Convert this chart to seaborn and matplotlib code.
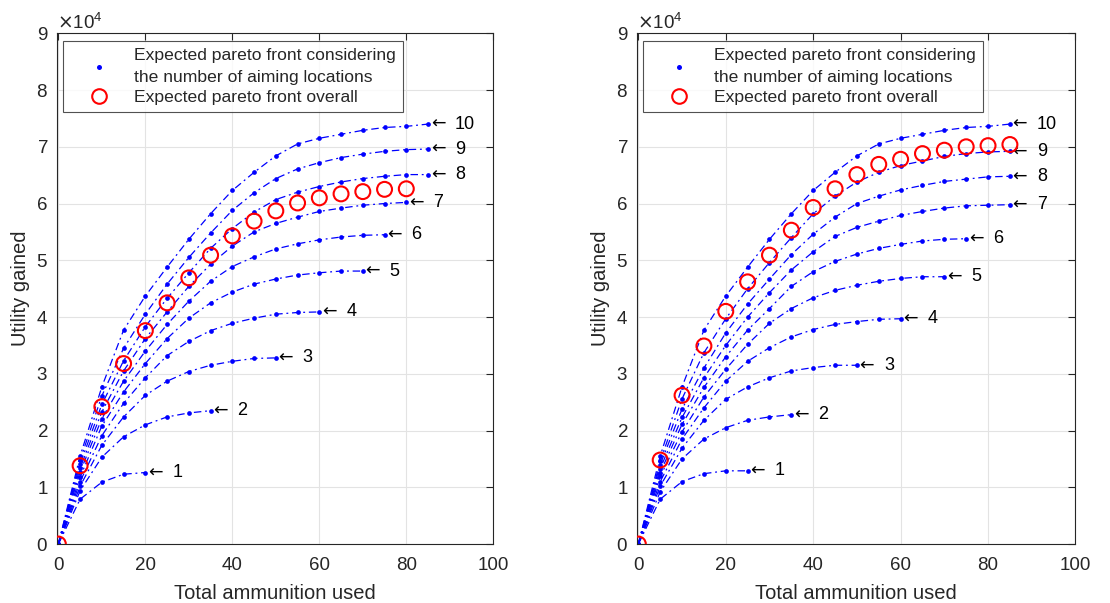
import numpy as np
import pandas as pd
import matplotlib
matplotlib.use("Agg")
import matplotlib.pyplot as plt
import seaborn as sns
from matplotlib.lines import Line2D

sns.set_theme(style="white")
plt.rcParams['font.family'] = ['Liberation Sans', 'DejaVu Sans']

# ---------------- data (utility in units of 1e4) ----------------
x_step = [0, 5, 10, 15, 20, 25, 30, 35, 40, 45, 50, 55, 60, 65, 70, 75, 80, 85]

# Left panel: utility per number of aiming locations (k = 1..10)
left_curves = {
    1:  [0, 0.79, 1.09, 1.23, 1.26],
    2:  [0, 0.94, 1.53, 1.89, 2.10, 2.24, 2.31, 2.35],
    3:  [0, 1.02, 1.74, 2.24, 2.62, 2.87, 3.04, 3.15, 3.22, 3.27, 3.28],
    4:  [0, 1.10, 1.91, 2.48, 2.93, 3.32, 3.57, 3.76, 3.89, 3.98, 4.05, 4.08, 4.09],
    5:  [0, 1.18, 2.08, 2.68, 3.18, 3.62, 3.98, 4.25, 4.44, 4.58, 4.67, 4.74, 4.78, 4.81, 4.81],
    6:  [0, 1.27, 2.21, 2.87, 3.40, 3.87, 4.28, 4.63, 4.89, 5.06, 5.20, 5.29, 5.36, 5.41, 5.44, 5.45],
    7:  [0, 1.34, 2.33, 3.05, 3.62, 4.09, 4.54, 4.93, 5.25, 5.50, 5.65, 5.76, 5.86, 5.92, 5.97, 6.00, 6.02],
    8:  [0, 1.41, 2.46, 3.23, 3.83, 4.33, 4.78, 5.21, 5.56, 5.85, 6.07, 6.20, 6.30, 6.38, 6.44, 6.48, 6.51, 6.51],
    9:  [0, 1.48, 2.61, 3.45, 4.05, 4.58, 5.05, 5.48, 5.88, 6.19, 6.44, 6.61, 6.72, 6.81, 6.87, 6.92, 6.95, 6.96],
    10: [0, 1.55, 2.77, 3.77, 4.37, 4.88, 5.37, 5.82, 6.23, 6.55, 6.84, 7.05, 7.15, 7.22, 7.29, 7.34, 7.36, 7.40],
}
left_overall = [0, 1.38, 2.42, 3.18, 3.76, 4.25, 4.69, 5.09, 5.43, 5.69, 5.87, 6.01, 6.10, 6.17, 6.21, 6.25, 6.26]

# Right panel
right_curves = {
    1:  [0, 0.79, 1.10, 1.24, 1.29, 1.29],
    2:  [0, 0.92, 1.50, 1.85, 2.05, 2.18, 2.24, 2.28],
    3:  [0, 1.02, 1.69, 2.18, 2.55, 2.77, 2.93, 3.05, 3.11, 3.15, 3.15],
    4:  [0, 1.10, 1.85, 2.40, 2.87, 3.22, 3.46, 3.65, 3.78, 3.87, 3.92, 3.96, 3.97],
    5:  [0, 1.19, 1.98, 2.59, 3.08, 3.52, 3.89, 4.15, 4.34, 4.47, 4.56, 4.63, 4.68, 4.71, 4.71],
    6:  [0, 1.26, 2.11, 2.76, 3.30, 3.77, 4.15, 4.54, 4.80, 4.98, 5.11, 5.21, 5.28, 5.34, 5.37, 5.38],
    7:  [0, 1.33, 2.23, 2.93, 3.50, 4.00, 4.43, 4.83, 5.15, 5.42, 5.58, 5.69, 5.79, 5.86, 5.92, 5.96, 5.97, 5.98],
    8:  [0, 1.40, 2.38, 3.10, 3.72, 4.23, 4.67, 5.10, 5.46, 5.76, 6.00, 6.13, 6.24, 6.32, 6.39, 6.43, 6.47, 6.48],
    9:  [0, 1.46, 2.56, 3.37, 3.97, 4.50, 4.96, 5.40, 5.82, 6.13, 6.38, 6.55, 6.67, 6.75, 6.83, 6.88, 6.91, 6.92],
    10: [0, 1.55, 2.77, 3.77, 4.37, 4.88, 5.37, 5.82, 6.23, 6.55, 6.84, 7.05, 7.15, 7.22, 7.29, 7.34, 7.36, 7.40],
}
right_overall = [0, 1.48, 2.62, 3.49, 4.10, 4.62, 5.09, 5.53, 5.93, 6.26, 6.51, 6.69, 6.78, 6.88, 6.94, 7.00, 7.02, 7.04]

x_ticks = [0, 20, 40, 60, 80, 100]
y_ticks = [0, 1, 2, 3, 4, 5, 6, 7, 8, 9]
x_label = "Total ammunition used"
y_label = "Utility gained"
legend_labels = ["Expected pareto front considering\nthe number of aiming locations",
                 "Expected pareto front overall"]
SCALE = 1e4
INK = "#262626"


def to_frame(curves):
    rows = []
    for k, vals in curves.items():
        for xv, yv in zip(x_step, vals):
            rows.append({"k": k, "ammo": xv, "utility": yv * SCALE})
    return pd.DataFrame(rows)


fig = plt.figure(figsize=(11.10, 6.03), dpi=100)
ax_l = fig.add_axes([0.0514, 0.0978, 0.393, 0.847])
ax_r = fig.add_axes([0.5739, 0.0978, 0.395, 0.847])

for ax, curves, overall in [(ax_l, left_curves, left_overall), (ax_r, right_curves, right_overall)]:
    df = to_frame(curves)
    for k in curves:
        sub = df[df["k"] == k]
        sns.lineplot(data=sub, x="ammo", y="utility", ax=ax, color=(0, 0, 1),
                     linestyle=(0, (6, 3, 1.5, 3)), linewidth=0.9, marker="o",
                     markersize=3.4, markeredgewidth=0, legend=False, sort=False,
                     estimator=None)
        xe = x_step[len(curves[k]) - 1]
        ye = curves[k][-1] * SCALE
        ax.text(xe + 0.6, ye, "\u2190", fontsize=12.5, va="center", ha="left",
                color="black", family=["DejaVu Sans"])
        ax.text(xe + 6.2, ye, str(k), fontsize=13, va="center", ha="left",
                color="black", family=["Liberation Sans"])
    od = pd.DataFrame({"ammo": x_step[:len(overall)], "utility": np.array(overall) * SCALE})
    sns.scatterplot(data=od, x="ammo", y="utility", ax=ax, marker="o", s=115,
                    facecolors="none", edgecolor="red", linewidth=1.5, zorder=5, legend=False)

    ax.set_xlim(-0.3, 100)
    ax.set_ylim(0, 9 * SCALE)
    ax.set_xticks(x_ticks)
    ax.set_yticks([t * SCALE for t in y_ticks])
    ax.ticklabel_format(axis="y", style="sci", scilimits=(4, 4), useMathText=True)
    ax.yaxis.get_offset_text().set_fontsize(13.5)
    ax.yaxis.get_offset_text().set_color(INK)
    ax.set_xlabel(x_label, fontsize=14.5, color=INK, labelpad=7.5)
    ax.set_ylabel(y_label, fontsize=14.5, color=INK, labelpad=4.5)
    ax.tick_params(axis="both", labelsize=13.5, colors=INK, direction="in",
                   length=5, width=0.8, top=True, right=True)
    ax.tick_params(axis="x", pad=9)
    ax.tick_params(axis="y", pad=6.5)
    ax.grid(True, color="#e3e3e3", linewidth=0.8)
    ax.set_axisbelow(True)
    for sp in ax.spines.values():
        sp.set_color(INK)
        sp.set_linewidth(0.8)
        sp.set_visible(True)

    handles = [
        Line2D([], [], color=(0, 0, 1), marker="o", linestyle="none", markersize=3.6, markeredgewidth=0),
        Line2D([], [], color="red", marker="o", linestyle="none", markersize=10.5,
               markerfacecolor="none", markeredgewidth=1.5),
    ]
    leg = ax.legend(handles, legend_labels, loc="upper left", bbox_to_anchor=(0.0138, 0.985),
                    fontsize=12.6, frameon=True, fancybox=False, edgecolor=INK,
                    handletextpad=0.34, borderpad=0.42, labelspacing=0.25, handlelength=3.3,
                    borderaxespad=0)
    for t in leg.get_texts():
        t.set_linespacing(1.6)
    leg.get_frame().set_linewidth(0.8)

fig.savefig("out.png", dpi=100)
